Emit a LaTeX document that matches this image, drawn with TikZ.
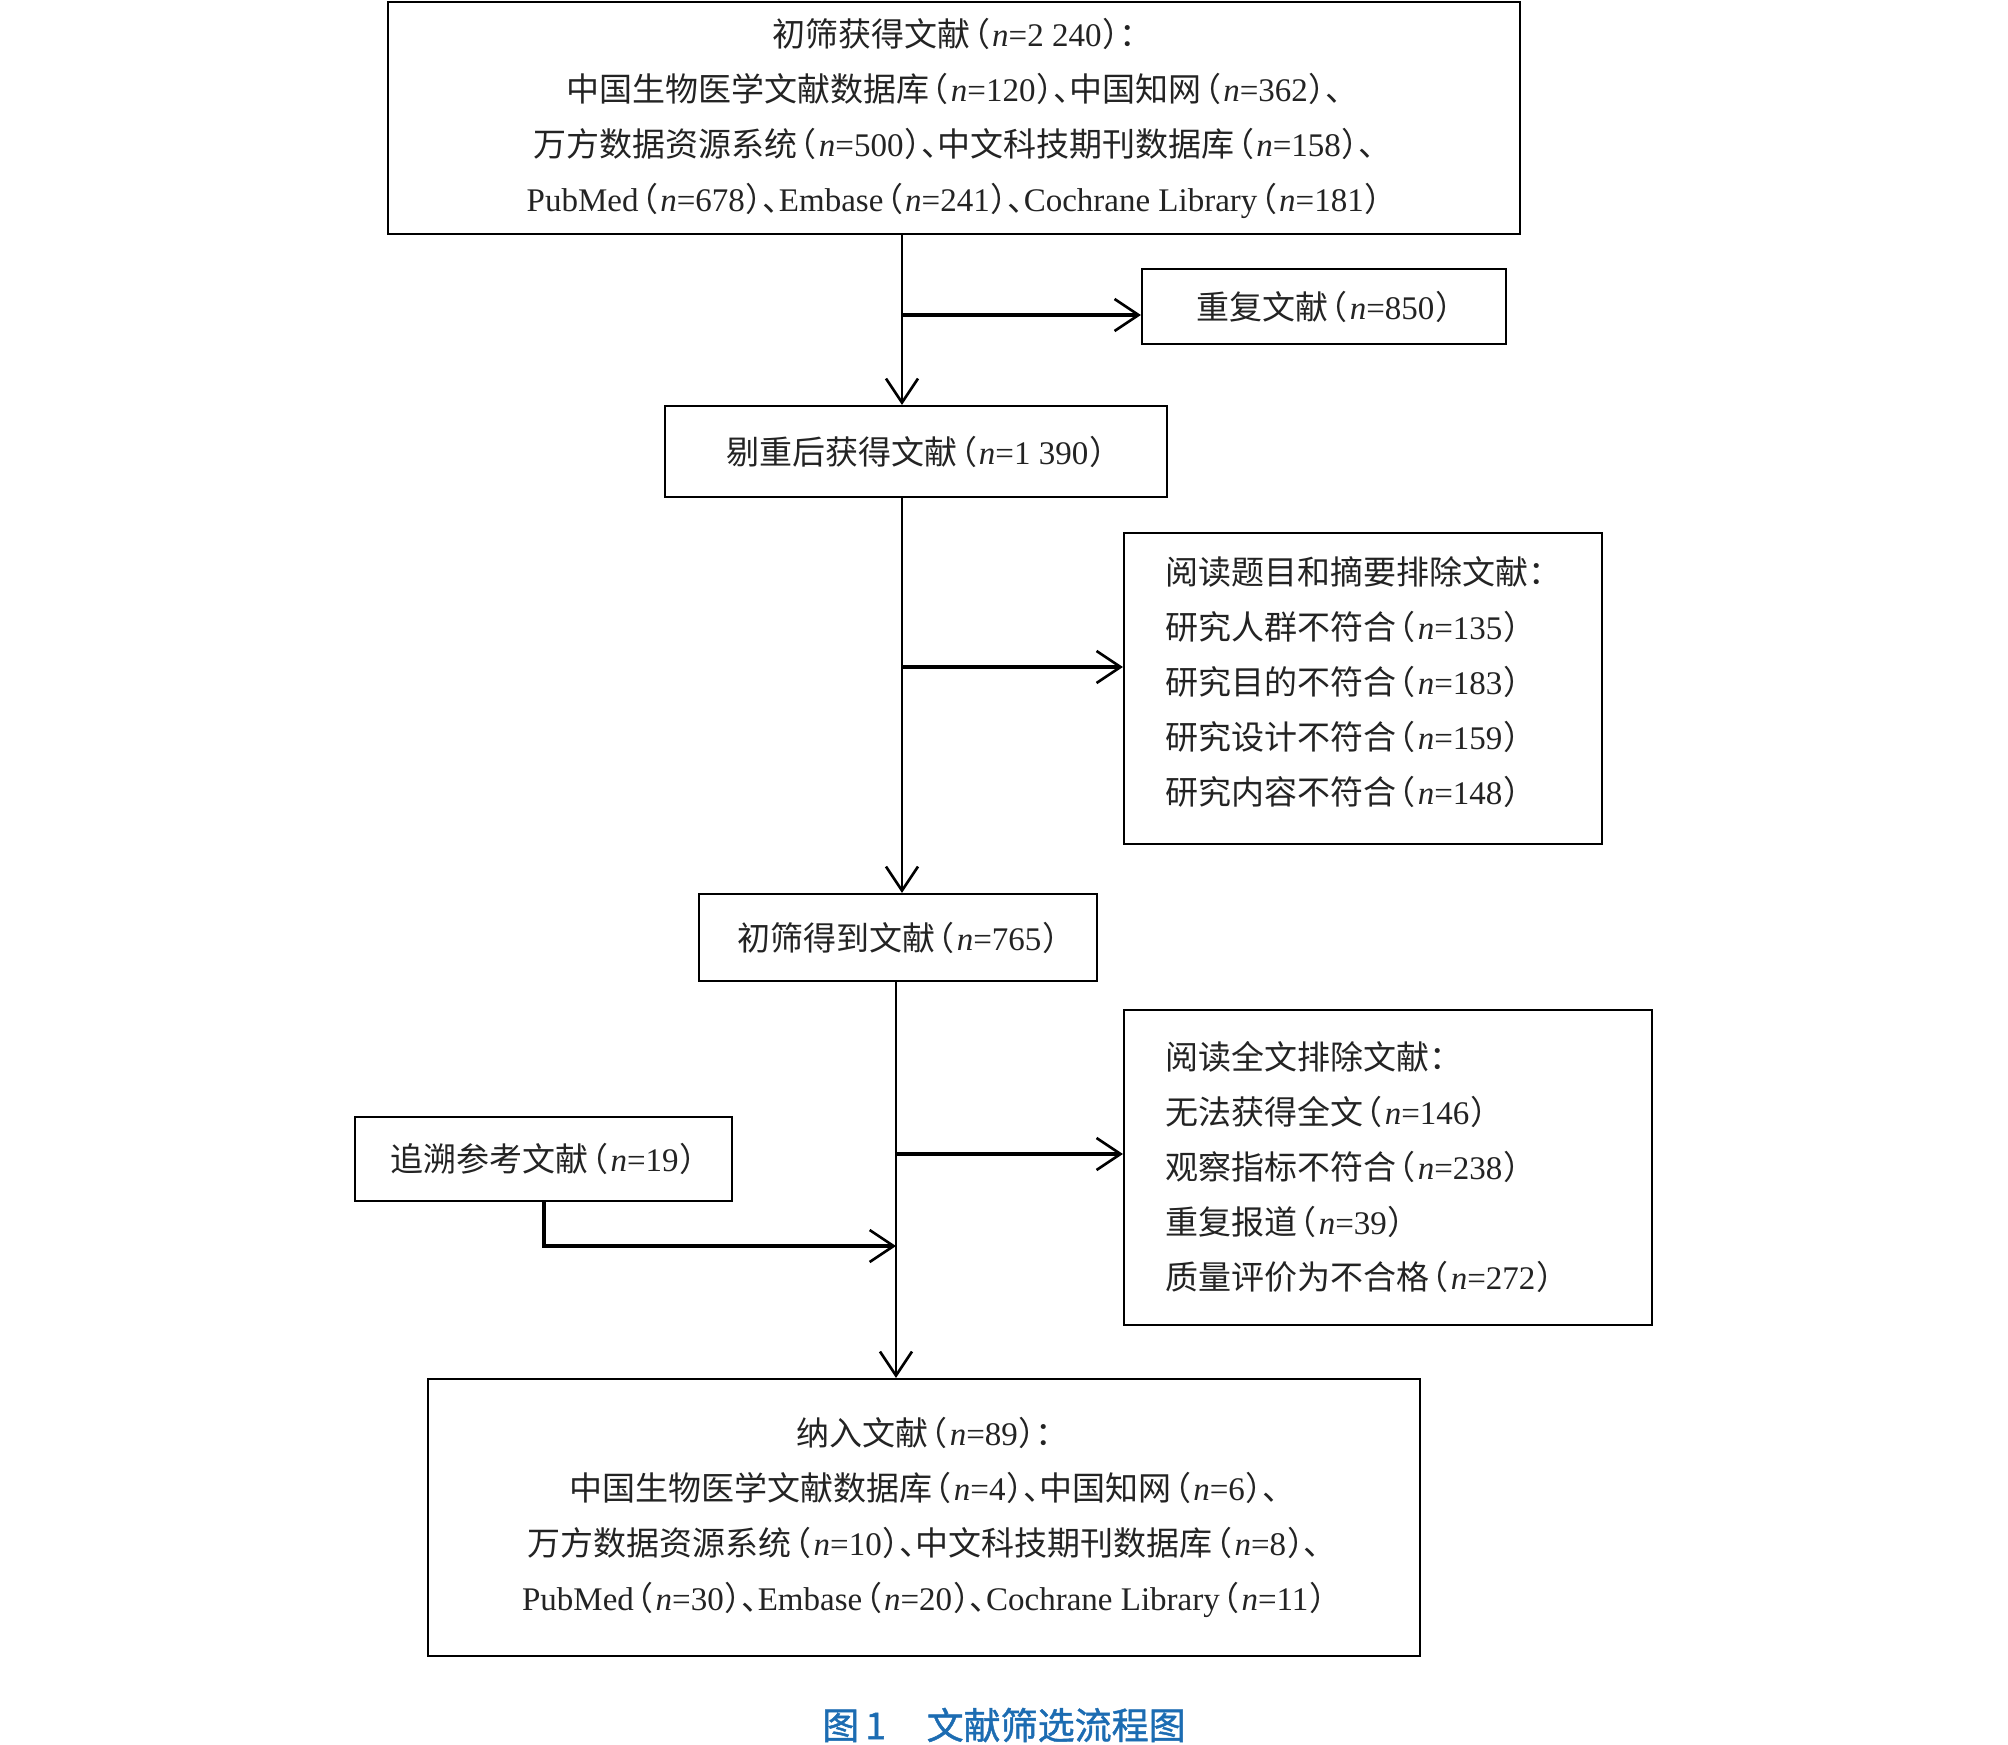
\documentclass[tikz,border=0pt]{standalone}
\usepackage{fontspec}
\usetikzlibrary{arrows.meta}
\setmainfont{Liberation Serif}
\newfontfamily\cjk{Noto Sans CJK SC}
\newfontfamily\cjkp{Noto Sans CJK SC}[RawFeature=+halt]
\newfontfamily\capfont{Noto Sans CJK SC}[FakeBold=1.2]
\newcommand\zh[1]{{\cjk #1}}
\newcommand\nn{\textit{n}}
\newcommand\lp{\hspace{0.1em}{\cjkp （}\hspace{0.06em}}
\newcommand\rp{\hspace{0.03em}{\cjkp ）}}
\newcommand\dn{{\cjkp 、}}
\newcommand\cl{{\cjkp ：}}
\definecolor{capblue}{RGB}{28,108,178}
\definecolor{txt}{RGB}{35,35,35}
\tikzset{
  box/.style={draw=black, line width=1.1pt, inner sep=0pt, align=center, text=txt,
    font=\fontsize{16.5}{27.5}\selectfont},
  lbox/.style={box, align=left, inner xsep=20.5pt},
  ltext/.style={inner sep=0pt, align=left, text=txt, font=\fontsize{16.5}{27.5}\selectfont},
  arr/.style={line width=1.3pt, -{Straight Barb[length=12pt,width=16pt,line width=1.3pt]}},
  harr/.style={line width=1.9pt, -{Straight Barb[length=12pt,width=16pt,line width=1.3pt]}}
}
\begin{document}
\begin{tikzpicture}[x=0.5pt,y=-0.5pt]
\useasboundingbox (0,0) rectangle (2008,1745);
% boxes
\node[box, minimum width=566pt, minimum height=116pt] (b1) at (954,118) {%
\zh{初筛获得文献}\lp\nn=2\hspace{0.25em}240\rp\cl\\
\zh{中国生物医学文献数据库}\lp\nn=120\rp\dn\zh{中国知网}\lp\nn=362\rp\dn\\
\zh{万方数据资源系统}\lp\nn=500\rp\dn\zh{中文科技期刊数据库}\lp\nn=158\rp\dn\\
PubMed\lp\nn=678\rp\dn Embase\lp\nn=241\rp\dn Cochrane Library\lp\nn=181\rp};
\node[box, minimum width=182pt, minimum height=37.5pt] (dup) at (1324,306.5) {\zh{重复文献}\lp\nn=850\rp};
\node[box, minimum width=251pt, minimum height=45.5pt] (b2) at (916,451.5) {\zh{剔重后获得文献}\lp\nn=1\hspace{0.25em}390\rp};
\node[box, minimum width=239pt, minimum height=155.5pt] (ex1) at (1363,688.5) {};
\node[ltext, text width=198pt] (ex1t) at (1363,682) {%
\zh{阅读题目和摘要排除文献}\cl\\
\zh{研究人群不符合}\lp\nn=135\rp\\
\zh{研究目的不符合}\lp\nn=183\rp\\
\zh{研究设计不符合}\lp\nn=159\rp\\
\zh{研究内容不符合}\lp\nn=148\rp};
\node[box, minimum width=199pt, minimum height=43.5pt] (b3) at (898,937.5) {\zh{初筛得到文献}\lp\nn=765\rp};
\node[lbox, text width=223pt, minimum height=157.5pt] (ex2) at (1388,1167.5) {%
\zh{阅读全文排除文献}\cl\\
\zh{无法获得全文}\lp\nn=146\rp\\
\zh{观察指标不符合}\lp\nn=238\rp\\
\zh{重复报道}\lp\nn=39\rp\\
\zh{质量评价为不合格}\lp\nn=272\rp};
\node[box, minimum width=188.5pt, minimum height=42pt] (ref) at (543.5,1159) {\zh{追溯参考文献}\lp\nn=19\rp};
\node[box, minimum width=496pt, minimum height=138.5pt] (fin) at (924,1517.5) {%
\zh{纳入文献}\lp\nn=89\rp\cl\\
\zh{中国生物医学文献数据库}\lp\nn=4\rp\dn\zh{中国知网}\lp\nn=6\rp\dn\\
\zh{万方数据资源系统}\lp\nn=10\rp\dn\zh{中文科技期刊数据库}\lp\nn=8\rp\dn\\
PubMed\lp\nn=30\rp\dn Embase\lp\nn=20\rp\dn Cochrane Library\lp\nn=11\rp};
\node[font=\capfont\fontsize{18.5}{20}\selectfont, text=capblue] (cap) at (1004,1725) {图\,1\hspace{1.1em}文献筛选流程图};
% connector coordinates
\coordinate (t1) at (902,234);
\coordinate (j1) at (902,315);
\coordinate (t2) at (902,497);
\coordinate (j2) at (902,667);
\coordinate (t3) at (896,981);
\coordinate (j3) at (896,1154);
\coordinate (r1) at (544,1246);
\coordinate (r2) at (896,1246);
% connectors
\draw[arr] (t1) -- (t1 |- b2.north);
\draw[harr] (j1) -- (j1 -| dup.west);
\draw[arr] (t2) -- (t2 |- b3.north);
\draw[harr] (j2) -- (j2 -| ex1.west);
\draw[arr] (t3) -- (t3 |- fin.north);
\draw[harr] (j3) -- (j3 -| ex2.west);
\draw[harr] (ref.south -| r1) -- (r1) -- (r2);
\end{tikzpicture}
\end{document}
